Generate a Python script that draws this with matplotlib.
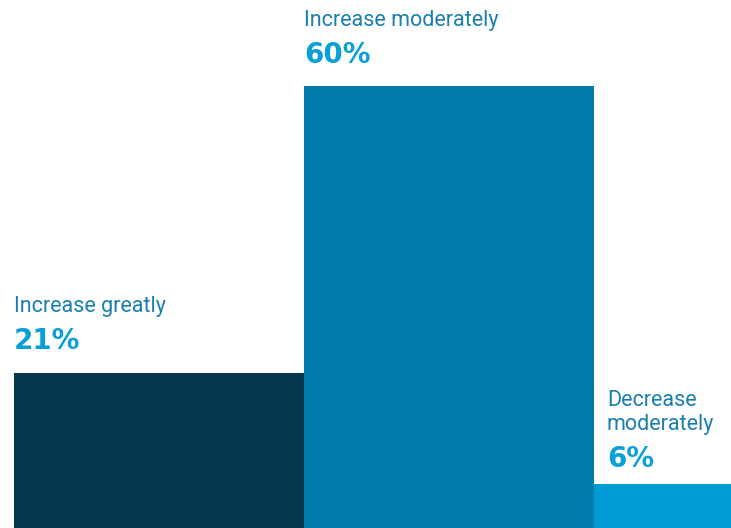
import matplotlib.pyplot as plt

labels = ['Increase greatly', 'Increase moderately', 'Decrease\nmoderately']
values = [21, 60, 6]
bar_colors = ['#04364f', '#007cad', '#009bd4']

fig = plt.figure(figsize=(7.31, 5.28), dpi=100)
ax = fig.add_axes([0, 0, 1, 1])

x = [0, 1, 2]
ax.bar(x, values, width=1.0, align='edge', color=bar_colors, linewidth=0)

# bar width is 290 px, first bar starts 14 px from the left edge
ax.set_xlim(-14 / 290, (731 - 14) / 290)
ax.set_ylim(0, 528 / (442 / 60))
ax.axis('off')

x_pad = [0, 0, 13]
pct_gap = [24, 23, 17]
for i in range(len(values)):
    ax.annotate(f'{values[i]}%', xy=(x[i], values[i]),
                xytext=(x_pad[i], pct_gap[i]), textcoords='offset pixels',
                ha='left', va='baseline', fontsize=20, fontweight='heavy',
                family='DejaVu Sans', color='#0a9fd9')
    ax.annotate(labels[i], xy=(x[i], values[i]),
                xytext=(x_pad[i], pct_gap[i] + 37), textcoords='offset pixels',
                ha='left', va='baseline', fontsize=15.5, family='Roboto',
                color='#1a7fb0', linespacing=1.15)

plt.savefig('out.png', dpi=100)
